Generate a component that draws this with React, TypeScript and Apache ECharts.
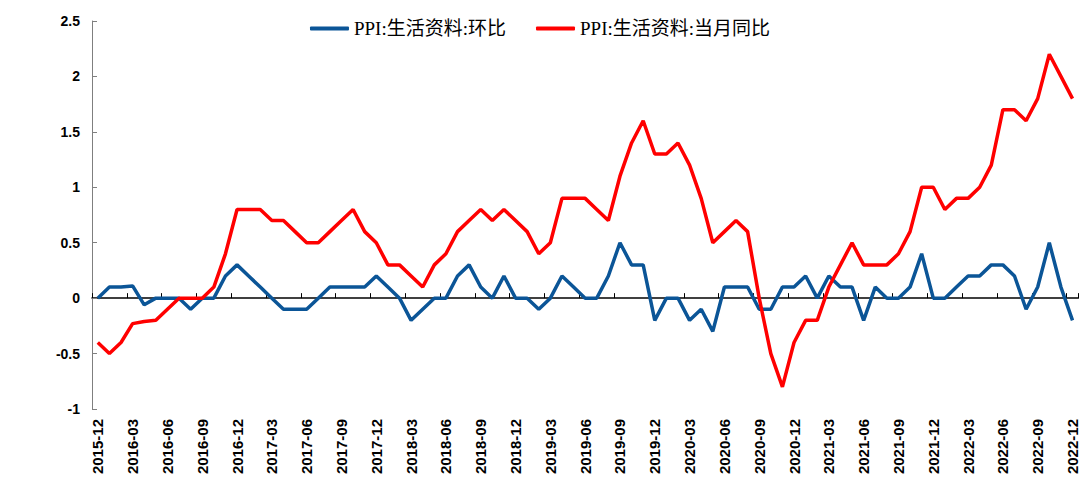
import React, { useEffect, useRef } from "react";
import * as echarts from "echarts";

const months = [
  "2015-12",
  "2016-01", "2016-02", "2016-03", "2016-04", "2016-05", "2016-06", "2016-07", "2016-08", "2016-09", "2016-10", "2016-11", "2016-12",
  "2017-01", "2017-02", "2017-03", "2017-04", "2017-05", "2017-06", "2017-07", "2017-08", "2017-09", "2017-10", "2017-11", "2017-12",
  "2018-01", "2018-02", "2018-03", "2018-04", "2018-05", "2018-06", "2018-07", "2018-08", "2018-09", "2018-10", "2018-11", "2018-12",
  "2019-01", "2019-02", "2019-03", "2019-04", "2019-05", "2019-06", "2019-07", "2019-08", "2019-09", "2019-10", "2019-11", "2019-12",
  "2020-01", "2020-02", "2020-03", "2020-04", "2020-05", "2020-06", "2020-07", "2020-08", "2020-09", "2020-10", "2020-11", "2020-12",
  "2021-01", "2021-02", "2021-03", "2021-04", "2021-05", "2021-06", "2021-07", "2021-08", "2021-09", "2021-10", "2021-11", "2021-12",
  "2022-01", "2022-02", "2022-03", "2022-04", "2022-05", "2022-06", "2022-07", "2022-08", "2022-09", "2022-10", "2022-11", "2022-12",
];

// PPI:生活资料:环比
const momValues = [
  0,
  0.1, 0.1, 0.11, -0.06, 0, 0, 0, -0.1, 0, 0, 0.2, 0.3,
  0.2, 0.1, 0, -0.1, -0.1, -0.1, 0, 0.1, 0.1, 0.1, 0.1, 0.2,
  0.1, 0, -0.2, -0.1, 0, 0, 0.2, 0.3, 0.1, 0, 0.2, 0,
  0, -0.1, 0, 0.2, 0.1, 0, 0, 0.2, 0.5, 0.3, 0.3, -0.2,
  0, 0, -0.2, -0.1, -0.3, 0.1, 0.1, 0.1, -0.1, -0.1, 0.1, 0.1,
  0.2, 0, 0.2, 0.1, 0.1, -0.2, 0.1, 0, 0, 0.1, 0.4, 0,
  0, 0.1, 0.2, 0.2, 0.3, 0.3, 0.2, -0.1, 0.1, 0.5, 0.1, -0.2,
];

// PPI:生活资料:当月同比
const yoyValues = [
  -0.4,
  -0.5, -0.4, -0.23, -0.21, -0.2, -0.1, 0, 0, 0, 0.1, 0.4, 0.8,
  0.8, 0.8, 0.7, 0.7, 0.6, 0.5, 0.5, 0.6, 0.7, 0.8, 0.6, 0.5,
  0.3, 0.3, 0.2, 0.1, 0.3, 0.4, 0.6, 0.7, 0.8, 0.7, 0.8, 0.7,
  0.6, 0.4, 0.5, 0.9, 0.9, 0.9, 0.8, 0.7, 1.1, 1.4, 1.6, 1.3,
  1.3, 1.4, 1.2, 0.9, 0.5, 0.6, 0.7, 0.6, 0, -0.5, -0.8, -0.4,
  -0.2, -0.2, 0.1, 0.3, 0.5, 0.3, 0.3, 0.3, 0.4, 0.6, 1.0, 1.0,
  0.8, 0.9, 0.9, 1.0, 1.2, 1.7, 1.7, 1.6, 1.8, 2.2, 2.0, 1.8,
];

const seriesNames = ["PPI:生活资料:环比", "PPI:生活资料:当月同比"];
const yTicks = { min: -1, max: 2.5, interval: 0.5 };

const sansFont = "Arial, 'Liberation Sans', Helvetica, sans-serif";
const serifFont = "'Times New Roman', 'Liberation Serif', 'Noto Sans CJK SC', serif";

export default function App() {
  const ref = useRef<HTMLDivElement>(null);

  useEffect(() => {
    document.body.style.margin = "0";
    if (!ref.current) return;
    const chart = echarts.init(ref.current, undefined, { renderer: "svg" });
    chart.setOption({
      animation: false,
      backgroundColor: "#fff",
      legend: {
        top: 14,
        left: "center",
        icon: "roundRect",
        itemWidth: 39,
        itemHeight: 4,
        itemGap: 30,
        textStyle: { fontFamily: serifFont, fontSize: 19, color: "#000" },
        data: seriesNames,
      },
      grid: { left: 92, top: 21, width: 989, height: 388, containLabel: false },
      xAxis: [
        {
          type: "category",
          data: months,
          boundaryGap: true,
          position: "bottom",
          axisLine: { show: false, onZero: false },
          axisTick: { show: false },
          splitLine: { show: false },
          axisLabel: {
            rotate: 90,
            interval: 2,
            margin: 10,
            fontSize: 15,
            fontWeight: "bold",
            color: "#000",
            fontFamily: sansFont,
          },
        },
        {
          type: "category",
          data: months,
          boundaryGap: true,
          position: "top",
          axisLine: { show: true, onZero: true, lineStyle: { color: "#000", width: 1.5 } },
          axisTick: { show: true, interval: 2, length: 5, inside: false, lineStyle: { color: "#000", width: 1 } },
          axisLabel: { show: false },
          splitLine: { show: false },
        },
      ],
      yAxis: {
        type: "value",
        min: yTicks.min,
        max: yTicks.max,
        interval: yTicks.interval,
        axisLine: { show: true, lineStyle: { color: "#7f7f7f", width: 1 } },
        axisTick: { show: true, inside: true, length: 5, lineStyle: { color: "#7f7f7f" } },
        splitLine: { show: false },
        axisLabel: {
          margin: 12,
          fontSize: 14,
          fontWeight: "bold",
          color: "#000",
          fontFamily: sansFont,
        },
      },
      series: [
        {
          name: seriesNames[0],
          type: "line",
          xAxisIndex: 0,
          data: momValues,
          symbol: "none",
          lineStyle: { color: "#0B5597", width: 3.5 },
          itemStyle: { color: "#0B5597" },
        },
        {
          name: seriesNames[1],
          type: "line",
          xAxisIndex: 0,
          data: yoyValues,
          symbol: "none",
          lineStyle: { color: "#FF0000", width: 3.5 },
          itemStyle: { color: "#FF0000" },
        },
      ],
    });
    return () => chart.dispose();
  }, []);

  return <div ref={ref} style={{ width: 1080, height: 487 }} />;
}
